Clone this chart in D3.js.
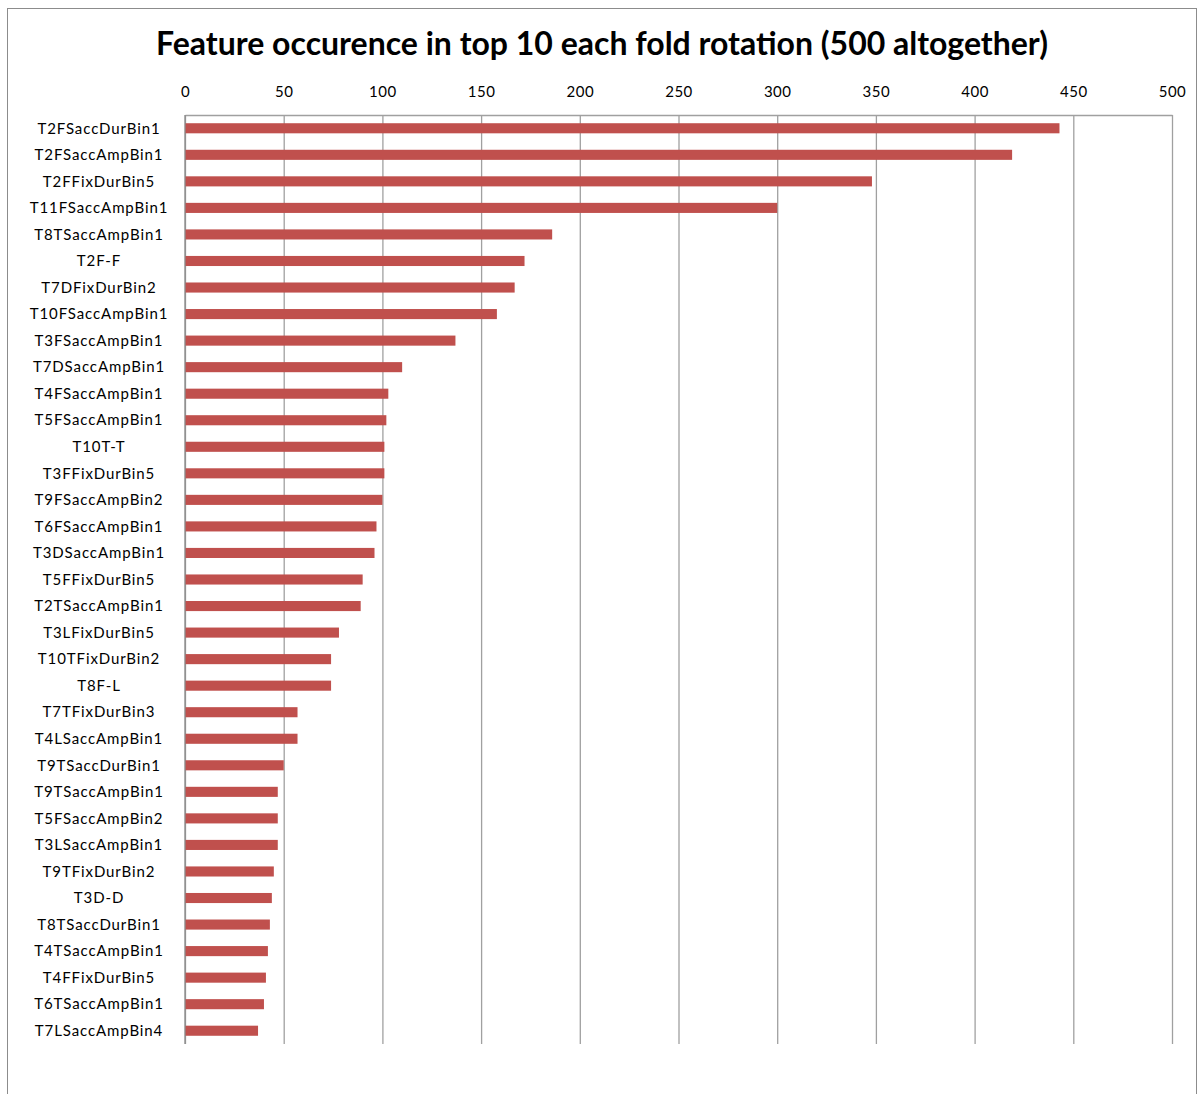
<!DOCTYPE html>
<html>
<head>
<meta charset="utf-8">
<script src="https://cdn.jsdelivr.net/npm/d3@7"></script>
<style>
  body { margin: 0; background: #fff; }
  text { font-family: Lato, "Open Sans", sans-serif; fill: #000; }
</style>
</head>
<body>
<figure style="margin:0"></figure>
<script>
const features = ["T2FSaccDurBin1","T2FSaccAmpBin1","T2FFixDurBin5","T11FSaccAmpBin1","T8TSaccAmpBin1",
    "T2F-F","T7DFixDurBin2","T10FSaccAmpBin1","T3FSaccAmpBin1","T7DSaccAmpBin1","T4FSaccAmpBin1",
    "T5FSaccAmpBin1","T10T-T","T3FFixDurBin5","T9FSaccAmpBin2","T6FSaccAmpBin1","T3DSaccAmpBin1",
    "T5FFixDurBin5","T2TSaccAmpBin1","T3LFixDurBin5","T10TFixDurBin2","T8F-L","T7TFixDurBin3",
    "T4LSaccAmpBin1","T9TSaccDurBin1","T9TSaccAmpBin1","T5FSaccAmpBin2","T3LSaccAmpBin1",
    "T9TFixDurBin2","T3D-D","T8TSaccDurBin1","T4TSaccAmpBin1","T4FFixDurBin5","T6TSaccAmpBin1",
    "T7LSaccAmpBin4"]
const counts = [443,419,348,300,186,172,167,158,137,110,103,102,101,101,100,97,96,90,89,78,74,74,
    57,57,50,47,47,47,45,44,43,42,41,40,37]
const xTicks = [0,50,100,150,200,250,300,350,400,450,500]
const title = "Feature occurence in top 10 each fold rotation (500 altogether)"

const svg = d3.select("figure").append("svg").attr("width", 1201).attr("height", 1094),
    margin = {top: 115, left: 185, right: 29, bottom: 50},
    width = 1201 - margin.left - margin.right,
    height = 1094 - margin.top - margin.bottom,
    chart = svg.append("g").attr("transform", `translate(${margin.left},${margin.top})`),
    x = d3.scaleLinear().domain([0, 500]).range([0, width]),
    y = d3.scaleBand().domain(features).range([0, height]).paddingInner(0.62).paddingOuter(0.31)

// outer frame
svg.append("rect").attr("x", 7.5).attr("y", 8.5).attr("width", 1189).attr("height", 1100)
    .attr("fill", "none").attr("stroke", "#8c8c8c").attr("stroke-width", 1)

svg.append("text")
    .text(title)
    .attr("x", 602).attr("y", 55)
    .style("text-anchor", "middle")
    .style("font-size", "32px")
    .style("font-weight", 700)

// top axis with gridlines
const xAxis = chart.append("g")
    .call(d3.axisTop(x).tickValues(xTicks).tickSize(-height).tickSizeOuter(0).tickPadding(18))
xAxis.selectAll(".tick line").attr("stroke", "#a0a0a0").attr("stroke-width", 1.3)
xAxis.select(".domain").attr("stroke", "#a0a0a0").attr("stroke-width", 1.3)
xAxis.selectAll(".tick text").style("font-size", "15px").style("font-family", "Lato, sans-serif")
    .style("letter-spacing", "0.5px").attr("fill", "#000")

chart.append("g")
    .selectAll("rect.bar")
    .data(features)
    .enter()
    .append("rect").classed("bar", true)
    .attr("x", 0)
    .attr("y", d => y(d))
    .attr("width", (d, i) => x(counts[i]))
    .attr("height", y.bandwidth())
    .attr("fill", "#c0504d")

// left axis line
chart.append("line")
    .attr("x1", 0).attr("x2", 0).attr("y1", 0).attr("y2", height)
    .attr("stroke", "#8a8a8a").attr("stroke-width", 1.3)

chart.selectAll("text.label")
    .data(features)
    .enter()
    .append("text").classed("label", true)
    .text(d => d)
    .attr("x", 99 - margin.left)
    .attr("y", d => y(d) + y.bandwidth() / 2)
    .attr("dy", "0.35em")
    .style("text-anchor", "middle")
    .style("font-size", "15px")
    .style("letter-spacing", "0.9px")
</script>
</body>
</html>
